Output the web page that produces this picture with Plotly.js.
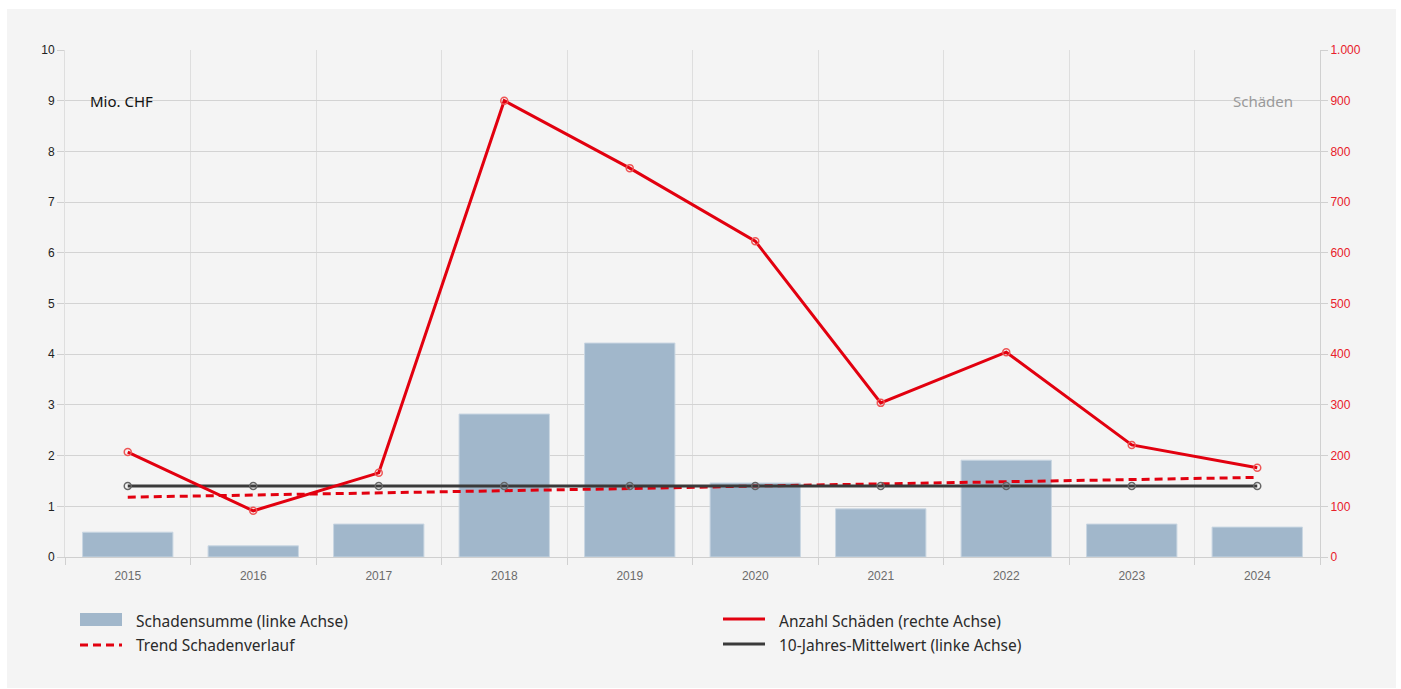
<!DOCTYPE html>
<html>
<head>
<meta charset="utf-8">
<script src="https://cdn.plot.ly/plotly-3.0.1.min.js"></script>
<style>
  html, body { margin: 0; padding: 0; background: #ffffff; }
  #chart { position: absolute; left: 7px; top: 9px; width: 1389px; height: 679px; }
</style>
</head>
<body>
<div id="chart"></div>
<script>
// ---- data ----
const years = ["2015","2016","2017","2018","2019","2020","2021","2022","2023","2024"];
const schadensumme = [0.49, 0.22, 0.65, 2.82, 4.22, 1.46, 0.95, 1.91, 0.65, 0.59];   // Mio. CHF (left axis)
const anzahlSchaeden = [207, 91, 166, 900, 767, 623, 304, 404, 221, 176];             // count (right axis)
const trend = [1.18, 1.22, 1.27, 1.31, 1.35, 1.40, 1.44, 1.48, 1.53, 1.57];            // left axis
const mittelwert = [1.40, 1.40, 1.40, 1.40, 1.40, 1.40, 1.40, 1.40, 1.40, 1.40];       // left axis
const seriesNames = ["Schadensumme (linke Achse)", "Anzahl Schäden (rechte Achse)", "Trend Schadenverlauf", "10-Jahres-Mittelwert (linke Achse)"];
const leftTicks = [0,1,2,3,4,5,6,7,8,9,10];
const rightTicks = [0,100,200,300,400,500,600,700,800,900,1000];

const RED = "#e2000f";
const DARK = "#3a3a3a";
const BAR = "#a1b7cb";
const BG = "#f4f4f4";

const traces = [
  { type: "bar", x: years, y: schadensumme, name: seriesNames[0], marker: { color: BAR, line: { color: "#c9d6e2", width: 1 } }, width: 0.72, yaxis: "y", hoverinfo: "x+y" },
  { type: "scatter", mode: "lines", x: years, y: trend, name: seriesNames[2], line: { color: RED, width: 3, dash: "8px,5px" }, yaxis: "y" },
  { type: "scatter", mode: "lines+markers", x: years, y: mittelwert, name: seriesNames[3], line: { color: DARK, width: 3 }, marker: { symbol: "circle-open", size: 7, color: "#666", line: { width: 1.5 } }, yaxis: "y" },
  { type: "scatter", mode: "lines+markers", x: years, y: anzahlSchaeden, name: seriesNames[1], line: { color: RED, width: 3 }, marker: { symbol: "circle-open", size: 7, color: "#ee5555", line: { width: 1.5 } }, yaxis: "y2" }
];

// custom legend in paper coordinates
function px2x(px) { return (px - 65) / 1255; }
function py2y(py) { return (557 - py) / 507; }
const legendFont = { family: "Noto Sans, Open Sans, sans-serif", size: 15.5, color: "#2a2a2a" };
const shapes = [
  { type: "rect", xref: "paper", yref: "paper", x0: px2x(80), x1: px2x(122), y0: py2y(626), y1: py2y(613), fillcolor: BAR, line: { width: 0 } },
  { type: "line", xref: "paper", yref: "paper", x0: px2x(80), x1: px2x(122), y0: py2y(645), y1: py2y(645), line: { color: RED, width: 3, dash: "8px,5px" } },
  { type: "line", xref: "paper", yref: "paper", x0: px2x(723), x1: px2x(765), y0: py2y(619), y1: py2y(619), line: { color: RED, width: 3 } },
  { type: "line", xref: "paper", yref: "paper", x0: px2x(723), x1: px2x(765), y0: py2y(644), y1: py2y(644), line: { color: DARK, width: 3 } }
];
const annotations = [
  { xref: "paper", yref: "paper", x: px2x(134), y: py2y(621), xanchor: "left", yanchor: "middle", text: seriesNames[0], showarrow: false, font: legendFont },
  { xref: "paper", yref: "paper", x: px2x(134), y: py2y(645), xanchor: "left", yanchor: "middle", text: seriesNames[2], showarrow: false, font: legendFont },
  { xref: "paper", yref: "paper", x: px2x(777), y: py2y(621), xanchor: "left", yanchor: "middle", text: seriesNames[1], showarrow: false, font: legendFont },
  { xref: "paper", yref: "paper", x: px2x(777), y: py2y(645), xanchor: "left", yanchor: "middle", text: seriesNames[3], showarrow: false, font: legendFont },
  { xref: "paper", yref: "paper", x: px2x(88), y: py2y(101), xanchor: "left", yanchor: "middle", text: "Mio. CHF", showarrow: false, font: { family: "Noto Sans, sans-serif", size: 15, color: "#111" } },
  { xref: "paper", yref: "paper", x: px2x(1295), y: py2y(101), xanchor: "right", yanchor: "middle", text: "Schäden", showarrow: false, font: { family: "Noto Sans, sans-serif", size: 15, color: "#9a9a9a" } }
];

const layout = {
  width: 1389, height: 679,
  margin: { l: 58, r: 76, t: 41, b: 131 },
  paper_bgcolor: BG, plot_bgcolor: BG,
  separators: ",.",
  showlegend: false,
  font: { family: "Liberation Sans, Arial, sans-serif", size: 12, color: "#333" },
  xaxis: {
    type: "category", tickson: "boundaries", ticks: "outside", ticklen: 7, tickcolor: "#d0d0d0",
    ticklabelstandoff: 8,
    showgrid: true, gridcolor: "#dedede", gridwidth: 1,
    showline: true, linecolor: "#cfcfcf", linewidth: 1,
    tickfont: { color: "#6b6b6b", size: 12 }, range: [-0.5, 9.5], zeroline: false, fixedrange: true
  },
  yaxis: {
    range: [0, 10], tickvals: leftTicks, ticks: "outside", ticklen: 7, tickcolor: "#d0d0d0",
    showgrid: true, gridcolor: "#d3d3d3", zeroline: false,
    showline: true, linecolor: "#dedede",
    tickfont: { color: "#222", size: 12 }, fixedrange: true
  },
  yaxis2: {
    overlaying: "y", side: "right", range: [0, 1000], tickvals: rightTicks, separatethousands: true,
    ticks: "outside", ticklen: 7, tickcolor: "#d0d0d0", showgrid: false, zeroline: false,
    showline: true, linecolor: "#d0d0d0",
    tickfont: { color: "#e8202a", size: 12 }, fixedrange: true
  },
  shapes: shapes,
  annotations: annotations
};

Plotly.newPlot("chart", traces, layout, { displayModeBar: false, staticPlot: true });
</script>
</body>
</html>
